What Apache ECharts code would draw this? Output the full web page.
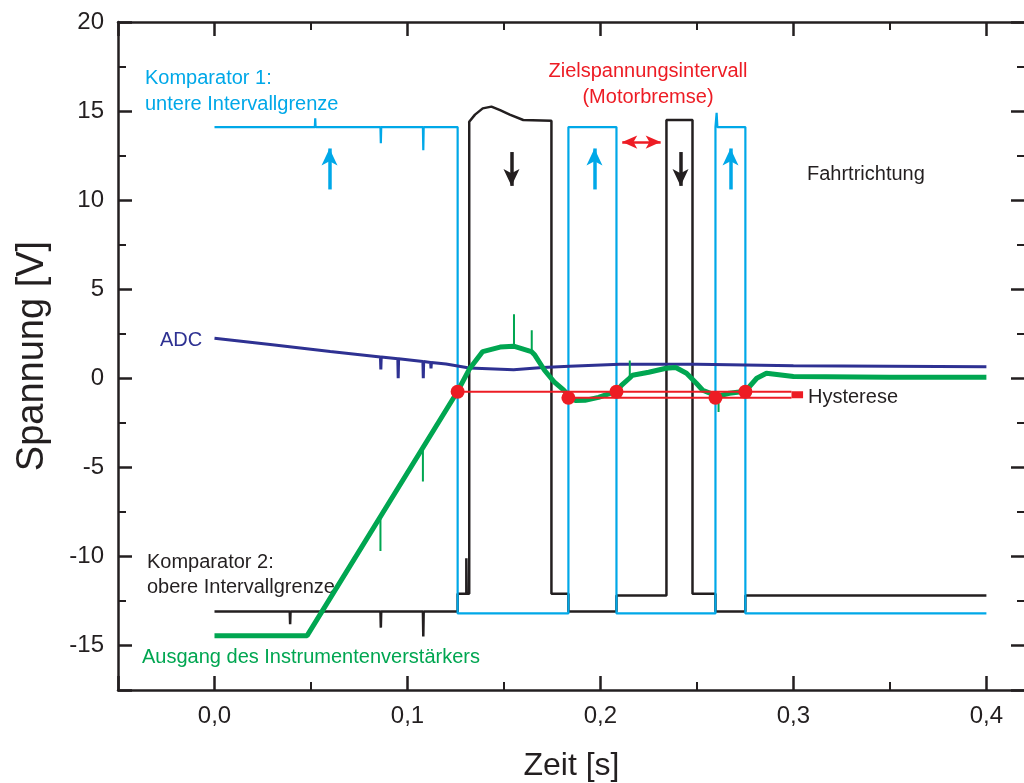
<!DOCTYPE html>
<html>
<head>
    <meta charset="utf-8">
    <title>Komparator</title>
    <script src="https://cdn.jsdelivr.net/npm/echarts/dist/echarts.min.js"></script>
</head>
<body style="margin:0">
    <div id="main" style="width: 1024px;height:783px;"></div>
    <script type="text/javascript">
        var komparator1 = [
            [0, 14.1], [0.052, 14.1], [0.0522, 14.6], [0.0524, 14.1], [0.086, 14.1], [0.0862, 13.2], [0.0864, 14.1],
            [0.108, 14.1], [0.1082, 12.8], [0.1084, 14.1], [0.126, 14.1], [0.126, -13.2], [0.1834, -13.2],
            [0.1834, 14.1], [0.2083, 14.1], [0.2083, -13.2], [0.2596, -13.2], [0.2596, 14.1], [0.2602, 14.9],
            [0.2606, 14.1], [0.2751, 14.1], [0.2751, -13.2], [0.4, -13.2]
        ];
        var komparator2 = [
            [0, -13.1], [0.039, -13.1], [0.0392, -13.8], [0.0394, -13.1], [0.086, -13.1], [0.0862, -14.0], [0.0864, -13.1],
            [0.108, -13.1], [0.1082, -14.5], [0.1084, -13.1], [0.126, -13.1], [0.126, -12.1], [0.1305, -12.1],
            [0.1305, -10.1], [0.1307, -12.1], [0.132, -12.1], [0.132, 14.4], [0.135, 14.8], [0.139, 15.15],
            [0.1435, 15.25], [0.148, 15.05], [0.153, 14.8], [0.16, 14.5], [0.1746, 14.45], [0.1746, -12.1],
            [0.1834, -12.1], [0.1834, -13.1], [0.2083, -13.1], [0.2083, -12.2], [0.2342, -12.2], [0.2342, 14.5],
            [0.2477, 14.5], [0.2477, -12.1], [0.2596, -12.1], [0.2596, -13.1], [0.2751, -13.1], [0.2751, -12.2],
            [0.4, -12.2]
        ];
        var adc = [
            [0, 2.25], [0.03, 1.88], [0.06, 1.5], [0.086, 1.2], [0.0862, 0.5], [0.0864, 1.2], [0.095, 1.09],
            [0.0952, 0.0], [0.0954, 1.09], [0.108, 0.94], [0.1082, 0.0], [0.1084, 0.94], [0.112, 0.89],
            [0.1122, 0.56], [0.1124, 0.89], [0.12, 0.8], [0.132, 0.58], [0.155, 0.48], [0.17, 0.6],
            [0.184, 0.67], [0.21, 0.78], [0.25, 0.78], [0.3, 0.7], [0.35, 0.68], [0.4, 0.65]
        ];
        var verstaerker = [
            [0, -14.45], [0.048, -14.45], [0.126, -0.73], [0.132, 0.5], [0.139, 1.5], [0.148, 1.75],
            [0.155, 1.8], [0.1642, 1.5], [0.166, 1.3], [0.171, 0.45], [0.176, -0.2], [0.181, -0.67],
            [0.1834, -0.95], [0.187, -1.25], [0.192, -1.24], [0.199, -1.07], [0.205, -0.85], [0.2083, -0.73],
            [0.211, -0.39], [0.215, 0.0], [0.2166, 0.17], [0.225, 0.34], [0.234, 0.56], [0.239, 0.6],
            [0.2446, 0.28], [0.2497, -0.28], [0.253, -0.67], [0.2596, -0.96], [0.261, -1.0], [0.2668, -0.84],
            [0.2751, -0.73], [0.281, 0.0], [0.286, 0.28], [0.3, 0.1], [0.35, 0.06], [0.4, 0.06]
        ];
        // einzelne Störspitzen im Verstärkersignal: [Zeit, von, bis]
        var verstaerkerSpitzen = [
            [0.086, -7.8, -9.7], [0.108, -3.9, -5.8], [0.1552, 1.8, 3.6], [0.1644, 1.5, 2.7],
            [0.2152, 0.05, 1.0], [0.2612, -1.0, -1.9]
        ];
        var hystereseOben = [[0.126, -0.76], [0.299, -0.76]];
        var hystereseUnten = [[0.1834, -1.1], [0.299, -1.1]];
        var hystereseEnde = [[0.299, -0.93], [0.305, -0.93]];
        var schaltpunkte = [[0.126, -0.76], [0.1834, -1.1], [0.2083, -0.76], [0.2596, -1.1], [0.2751, -0.76]];

        // Pfeile
        var pfeileHoch = [0.0596, 0.1969, 0.2674];   // cyan, nach oben
        var pfeileRunter = [0.1539, 0.2415];         // schwarz, nach unten
        var zielIntervall = [0.2083, 0.2342];

        var FONT = '"Liberation Sans", Arial, sans-serif';
        var SCHWARZ = '#231f20';
        var CYAN = '#00a8e8';
        var GRUEN = '#00a651';
        var BLAU = '#2e3192';
        var ROT = '#ed1c24';

        var myChart = echarts.init(document.getElementById('main'));

        function achse(pos, mitLabel) {
            return {
                type: 'value',
                position: pos,
                axisLine: { show: true, onZero: false, lineStyle: { color: SCHWARZ, width: 2.5 } },
                axisTick: { show: true, inside: true, length: 14, lineStyle: { color: SCHWARZ, width: 2.5 } },
                minorTick: { show: true, splitNumber: 2, length: 8, lineStyle: { color: SCHWARZ, width: 2 } },
                splitLine: { show: false },
                axisLabel: { show: mitLabel, fontSize: 24, color: SCHWARZ, fontFamily: FONT, margin: 14 }
            };
        }

        var xUnten = achse('bottom', true);
        xUnten.min = -0.05; xUnten.max = 0.42; xUnten.splitNumber = 5;
        xUnten.axisLabel.showMinLabel = false;
        xUnten.axisLabel.showMaxLabel = false;
        xUnten.axisLabel.formatter = function(v) { return v.toFixed(1).replace('.', ','); };
        xUnten.name = 'Zeit [s]';
        xUnten.nameLocation = 'middle';
        xUnten.nameGap = 60;
        xUnten.nameTextStyle = { fontSize: 32, color: SCHWARZ, fontFamily: FONT };
        var xOben = achse('top', false);
        xOben.min = -0.05; xOben.max = 0.42; xOben.splitNumber = 5;

        var yLinks = achse('left', true);
        yLinks.min = -17.5; yLinks.max = 20; yLinks.splitNumber = 7;
        yLinks.axisLabel.showMinLabel = false;
        yLinks.name = 'Spannung [V]';
        yLinks.nameLocation = 'middle';
        yLinks.nameGap = 66;
        yLinks.nameTextStyle = { fontSize: 38, color: SCHWARZ, fontFamily: FONT };
        var yRechts = achse('right', false);
        yRechts.min = -17.5; yRechts.max = 20; yRechts.splitNumber = 7;

        function linie(name, data, color, width, z) {
            return {
                name: name, type: 'line', data: data, symbol: 'none', z: z,
                lineStyle: { color: color, width: width }, animation: false, silent: true
            };
        }

        // Spitzen als kurze senkrechte Stücke, getrennt durch Lücken
        var spitzenDaten = [];
        verstaerkerSpitzen.forEach(function(s) {
            spitzenDaten.push([s[0], s[1]], [s[0], s[2]], [s[0], null]);
        });

        function pfeil(x, y1, y2, color) {
            return [
                { coord: [x, y1], symbol: 'none', lineStyle: { color: color, width: 3.5, type: 'solid' } },
                { coord: [x, y2], symbol: 'arrow', symbolSize: [12, 17], itemStyle: { color: color } }
            ];
        }

        var pfeilDaten = [];
        pfeileHoch.forEach(function(x) { pfeilDaten.push(pfeil(x, 10.6, 12.9, CYAN)); });
        pfeileRunter.forEach(function(x) { pfeilDaten.push(pfeil(x, 12.7, 10.8, SCHWARZ)); });
        pfeilDaten.push([
            { coord: [zielIntervall[0] + 0.003, 13.26], symbol: 'arrow', symbolSize: [10, 15], lineStyle: { color: ROT, width: 2.5, type: 'solid' }, itemStyle: { color: ROT } },
            { coord: [zielIntervall[1] - 0.003, 13.26], symbol: 'arrow', symbolSize: [10, 15], itemStyle: { color: ROT } }
        ]);

        var option = {
            animation: false,
            grid: { left: 118, top: 22, width: 907, height: 668, containLabel: false, outerBoundsMode: 'none' },
            xAxis: [xUnten, xOben],
            yAxis: [yLinks, yRechts],
            series: [
                linie('Komparator 2', komparator2, SCHWARZ, 2.5, 2),
                linie('Komparator 1', komparator1, CYAN, 2.2, 3),
                linie('ADC', adc, BLAU, 3, 4),
                linie('Ausgang', verstaerker, GRUEN, 5, 5),
                linie('Ausgang Spitzen', spitzenDaten, GRUEN, 2, 5),
                linie('Hysterese oben', hystereseOben, ROT, 2, 6),
                linie('Hysterese unten', hystereseUnten, ROT, 2, 6),
                linie('Hysterese Ende', hystereseEnde, ROT, 7, 6),
                {
                    type: 'scatter', data: schaltpunkte, symbolSize: 14, z: 7,
                    itemStyle: { color: ROT, opacity: 1 }, silent: true, animation: false
                },
                {
                    type: 'line', data: [], z: 8, silent: true,
                    markLine: {
                        silent: true, animation: false, label: { show: false },
                        lineStyle: { type: 'solid' }, symbol: ['none', 'arrow'], data: pfeilDaten
                    }
                }
            ],
            graphic: [
                { type: 'text', x: 145, y: 65, style: { text: 'Komparator 1:\nuntere Intervallgrenze', fill: CYAN, font: '20px ' + FONT, lineHeight: 26 } },
                { type: 'text', x: 648, y: 58, style: { text: 'Zielspannungsintervall\n(Motorbremse)', fill: ROT, font: '20px ' + FONT, lineHeight: 26, align: 'center' } },
                { type: 'text', x: 807, y: 161, style: { text: 'Fahrtrichtung', fill: SCHWARZ, font: '20px ' + FONT, lineHeight: 26 } },
                { type: 'text', x: 160, y: 327, style: { text: 'ADC', fill: BLAU, font: '20px ' + FONT, lineHeight: 26 } },
                { type: 'text', x: 808, y: 384, style: { text: 'Hysterese', fill: SCHWARZ, font: '20px ' + FONT, lineHeight: 26 } },
                { type: 'text', x: 147, y: 550, style: { text: 'Komparator 2:\nobere Intervallgrenze', fill: SCHWARZ, font: '20px ' + FONT, lineHeight: 25 } },
                { type: 'text', x: 142, y: 644, style: { text: 'Ausgang des Instrumentenverstärkers', fill: GRUEN, font: '20px ' + FONT, lineHeight: 26 } }
            ]
        };
        myChart.setOption(option);
    </script>
</body>
</html>
